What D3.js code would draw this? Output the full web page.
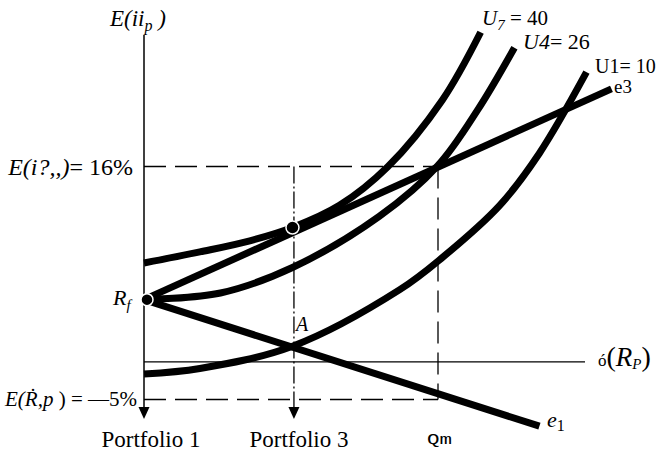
<!DOCTYPE html>
<html>
<head>
<meta charset="utf-8">
<script src="https://cdn.jsdelivr.net/npm/d3@7"></script>
<style>
  body { margin: 0; background: #fff; }
  text { font-family: "Liberation Serif", "DejaVu Serif", serif; fill: #000; }
</style>
</head>
<body>
<script>
// risk (sigma) and expected return points
var rf = 4;
var sigmaM = 20, sigmaP3 = 10.2;
var topReturn = 16, lowReturn = -5;

var u7Sigma = [0, 3.8, 7.2, 10.1, 13.3, 16.6, 20.3, 22.9];
var u7Ret   = [7.3, 8.3, 9.3, 10.5, 12.5, 16.0, 22.0, 28.1];
var u4Sigma = [0, 5.2, 10.1, 16.0, 20.0, 22.7, 25.2];
var u4Ret   = [4.0, 4.6, 6.9, 11.5, 16.1, 21.1, 26.7];
var u1Sigma = [0, 3.8, 10.1, 17.4, 20.3, 24.2, 26.9, 30.1];
var u1Ret   = [-2.7, -2.2, -0.2, 4.9, 7.8, 12.5, 17.2, 24.5];

var e3Sigma = [0, 31.8], e3Ret = [4, 23.0];
var e1Sigma = [0, 26.9], e1Ret = [4, -7.4];

var pointA = {s: 10.2, r: -0.2};
var tangent = {s: 10.1, r: 10.5};
var axisLevel = -1.6;

var width = 660, height = 453;

var x = d3.scaleLinear().domain([0, 30]).range([144, 585]);
var y = d3.scaleLinear().domain([lowReturn, topReturn]).range([399.5, 166.5]);

var svg = d3.select("body").append("svg")
	.attr("width", width)
	.attr("height", height);

var zip = function(a, b) {
	return a.map(function(v, i){ return [v, b[i]]; });
};

var curve = d3.line()
	.x(function(d){ return x(d[0]); })
	.y(function(d){ return y(d[1]); })
	.curve(d3.curveCatmullRom.alpha(0.5));

var straight = d3.line()
	.x(function(d){ return x(d[0]); })
	.y(function(d){ return y(d[1]); });

// axes
svg.append("line")
	.attr("x1", x(0)).attr("x2", x(0))
	.attr("y1", 35).attr("y2", 410)
	.attr("stroke", "#000").attr("stroke-width", 1.5);
svg.append("line")
	.attr("x1", x(0)).attr("x2", x(30))
	.attr("y1", y(axisLevel)).attr("y2", y(axisLevel))
	.attr("stroke", "#000").attr("stroke-width", 1.3);

// guide lines
var dashed = svg.append("g")
	.attr("fill", "none")
	.attr("stroke", "#000")
	.attr("stroke-width", 1.3)
	.attr("stroke-dasharray", "22,9");
dashed.append("path").attr("d", straight([[0, topReturn], [sigmaM, topReturn]]));
dashed.append("path").attr("d", straight([[0, lowReturn], [sigmaM, lowReturn]]));
dashed.append("path").attr("d", straight([[sigmaM, topReturn], [sigmaM, lowReturn]]));

svg.append("line")
	.attr("x1", x(sigmaP3)).attr("x2", x(sigmaP3))
	.attr("y1", y(topReturn)).attr("y2", 408)
	.attr("stroke", "#000").attr("stroke-width", 1.3)
	.attr("stroke-dasharray", "17,3,2,3");

// arrow heads at the bottom
[0, sigmaP3].forEach(function(s) {
	var cx = x(s);
	svg.append("path")
		.attr("d", "M" + (cx - 5.5) + "," + 407 + " L" + (cx + 5.5) + "," + 407 + " L" + cx + "," + 419 + " Z")
		.attr("fill", "#000");
});

// lines and indifference curves
var thick = svg.append("g")
	.attr("fill", "none")
	.attr("stroke", "#000")
	.attr("stroke-width", 7);
thick.append("path").attr("d", straight(zip(e3Sigma, e3Ret)));
thick.append("path").attr("d", straight(zip(e1Sigma, e1Ret)));
thick.append("path").attr("d", curve(zip(u7Sigma, u7Ret)));
thick.append("path").attr("d", curve(zip(u4Sigma, u4Ret)));
thick.append("path").attr("d", curve(zip(u1Sigma, u1Ret)));

// points
svg.append("circle")
	.attr("cx", x(0) + 3).attr("cy", y(rf)).attr("r", 6)
	.attr("fill", "#000").attr("stroke", "#fff").attr("stroke-width", 1.5);
svg.append("circle")
	.attr("cx", x(tangent.s)).attr("cy", y(tangent.r)).attr("r", 6.5)
	.attr("fill", "#000").attr("stroke", "#fff").attr("stroke-width", 1.5);

// labels
var addText = function(px, py, size, parts, anchor) {
	var t = svg.append("text")
		.attr("x", px).attr("y", py)
		.attr("font-size", size)
		.attr("text-anchor", anchor || "start");
	parts.forEach(function(p) {
		var ts = t.append("tspan").text(p.t);
		if (p.i) ts.attr("font-style", "italic");
		if (p.s) ts.attr("font-size", p.s);
		if (p.dy) ts.attr("dy", p.dy);
	});
	return t;
};

addText(110, 26, 23, [{t: "E(ii", i: 1}, {t: "p", i: 1, s: 16, dy: 5}, {t: " )", i: 1, dy: -5}]);
addText(133, 175, 24, [{t: "E(i?,,)", i: 1}, {t: "= 16%"}], "end");
addText(137, 406, 21, [{t: "E(Ṙ,p", i: 1}, {t: " ) = —5%"}], "end");
addText(113, 305, 22, [{t: "R", i: 1}, {t: "f", i: 1, s: 15, dy: 5}]);
addText(x(pointA.s) + 2, y(pointA.r) - 15, 20, [{t: "A", i: 1}]);

addText(482, 25, 21, [{t: "U", i: 1}, {t: "7", i: 1, s: 15, dy: 5}, {t: " = 40", dy: -5}]);
addText(523, 49, 22, [{t: "U4", i: 1}, {t: "= 26"}]);
addText(595, 73, 20, [{t: "U1= 10"}]);
addText(614, 93, 19, [{t: "e3"}]);
addText(547, 427, 22, [{t: "e", i: 1}, {t: "1", s: 16, dy: 4}]);

addText(598, 366, 17, [{t: "ó"}, {t: "(", s: 28}, {t: "R", i: 1, s: 27}, {t: "P", i: 1, s: 15, dy: 3}, {t: ")", s: 28, dy: -3}]);

addText(151, 447, 23, [{t: "Portfolio 1"}], "middle");
addText(299, 447, 23, [{t: "Portfolio 3"}], "middle");
svg.append("text")
	.attr("x", 427).attr("y", 444)
	.attr("font-size", 14)
	.style("font-family", "'Liberation Mono', monospace")
	.attr("fill", "#333")
	.attr("textLength", 25)
	.attr("lengthAdjust", "spacingAndGlyphs")
	.text("Qm");
</script>
</body>
</html>
